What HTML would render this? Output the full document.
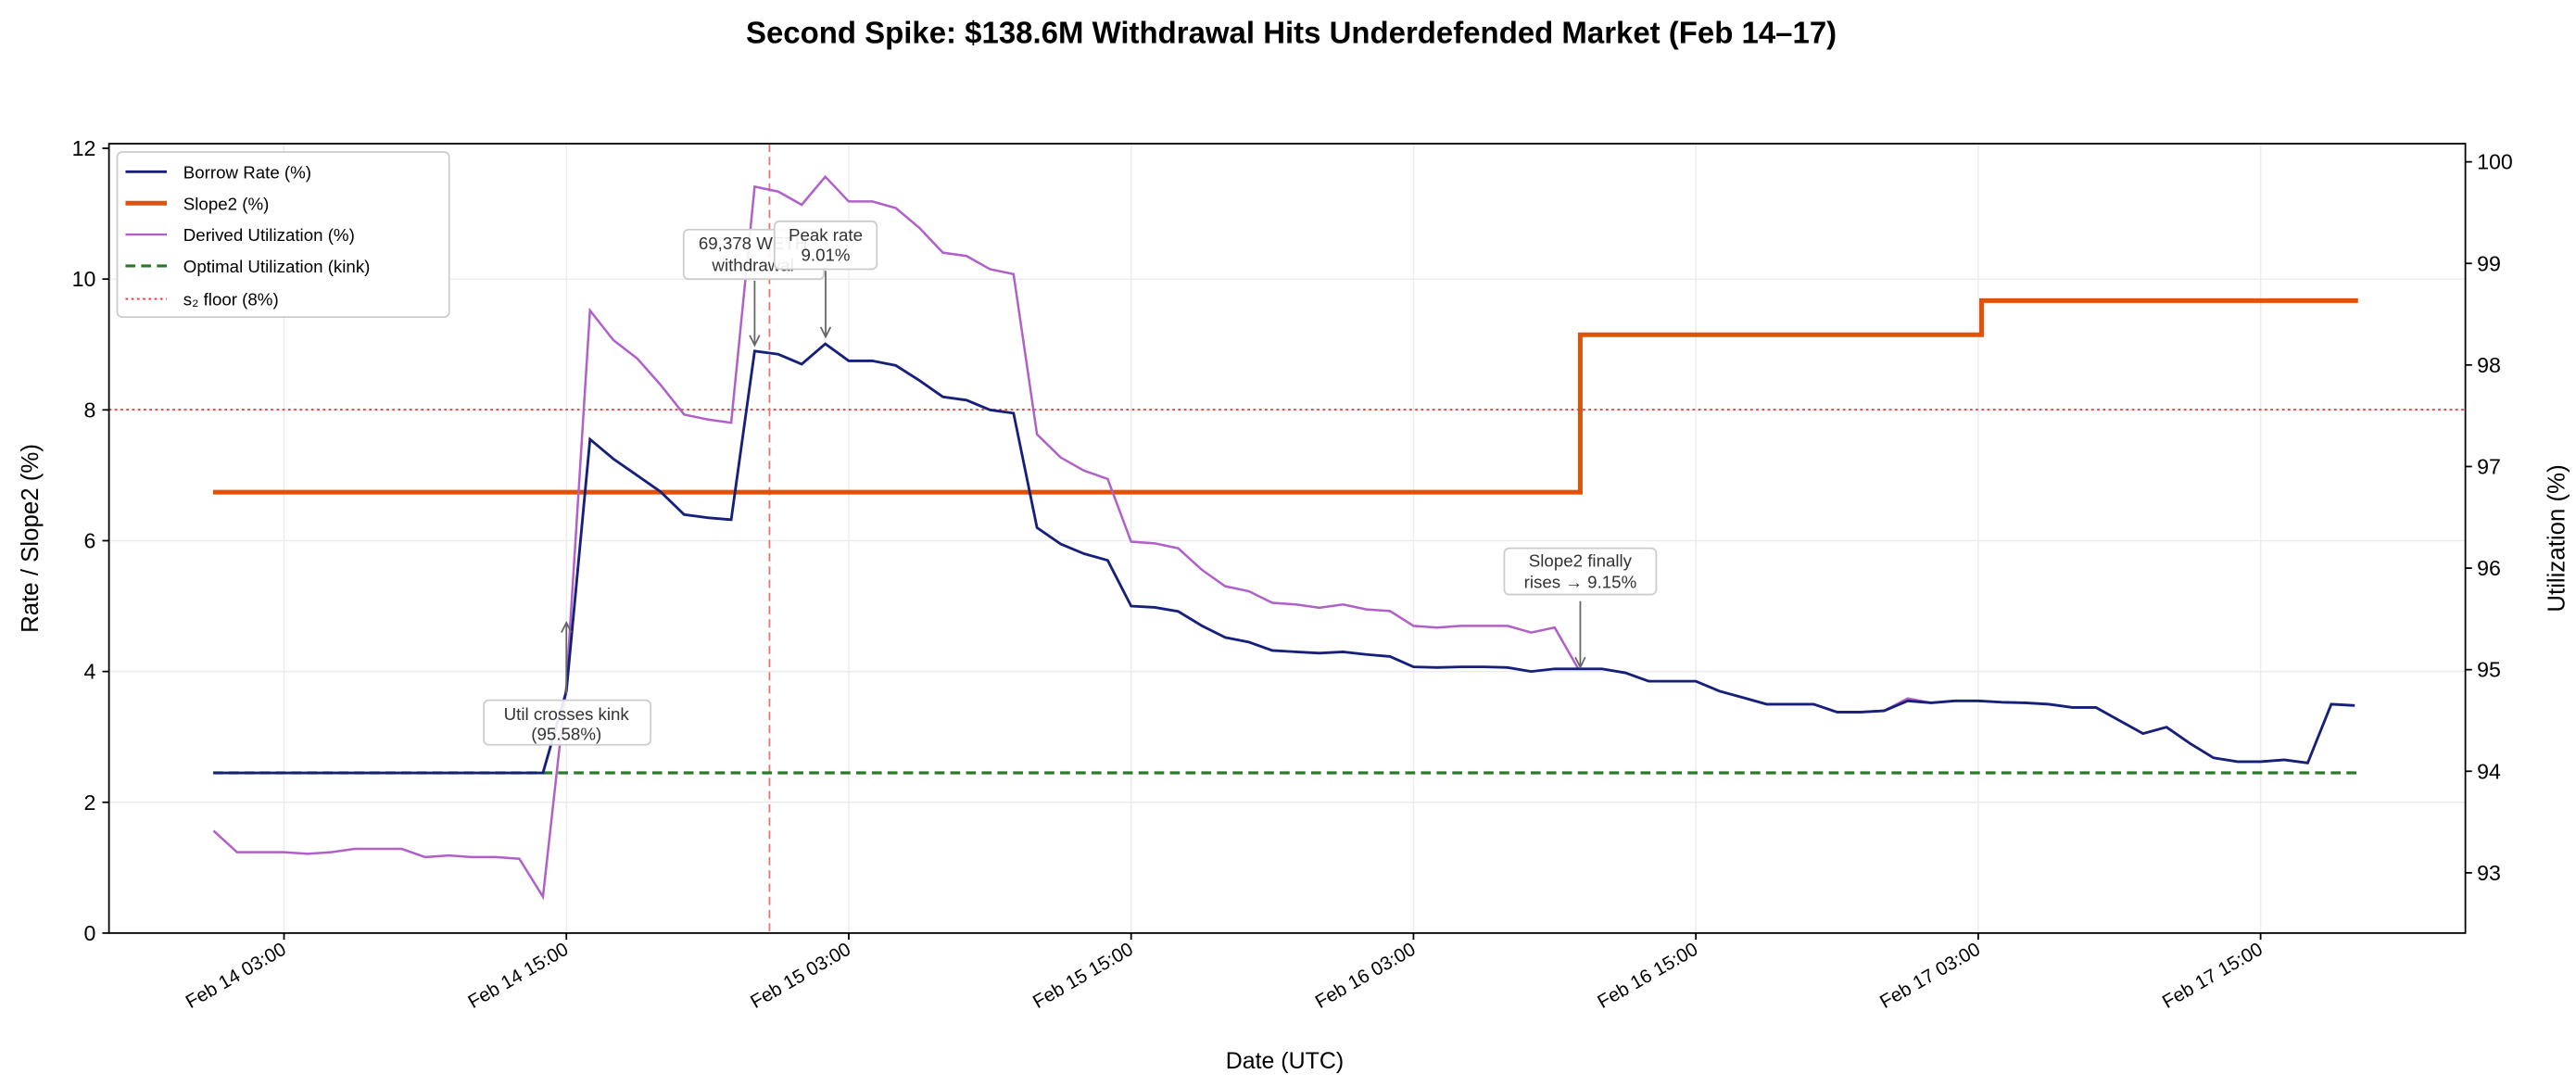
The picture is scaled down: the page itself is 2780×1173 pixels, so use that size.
<!DOCTYPE html>
<html><head><meta charset="utf-8"><style>
html,body{margin:0;padding:0;background:#fff;}
svg{display:block;font-family:"Liberation Sans","DejaVu Sans",sans-serif;}
</style></head><body>
<svg id="s" width="2780" height="1173" viewBox="0 0 1560 658.2" preserveAspectRatio="none" xmlns="http://www.w3.org/2000/svg">
<rect width="1560" height="658.2" fill="#fff"/>
<text x="782" y="26" text-anchor="middle" font-size="18.5" font-weight="bold">Second Spike: $138.6M Withdrawal Hits Underdefended Market (Feb 14–17)</text>
<g id="grid" stroke="#ebebeb" stroke-width="0.8"></g>
<line x1="66" x2="1493" y1="248" y2="248" stroke="#e33" stroke-width="1" stroke-dasharray="1.5,2"/>
<line x1="466" x2="466" y1="87" y2="565" stroke="#f07070" stroke-width="1" stroke-dasharray="5,3"/>
<line x1="129" x2="1428" y1="468" y2="468" stroke="#2a7a2a" stroke-width="1.8" stroke-dasharray="6,3.5"/>
<polyline id="slope" fill="none" stroke="#e0520a" stroke-width="2.8" points="129,298 957,298 957,202.7 1200,202.7 1200,182 1428,182"/>
<polyline id="util" fill="none" stroke="#b060c8" stroke-width="1.4"/>
<polyline id="rate" fill="none" stroke="#16207a" stroke-width="1.6"/>
<rect x="66" y="87" width="1427" height="478" fill="none" stroke="#000" stroke-width="1"/>
<g id="ticks" font-size="13"></g>
<text transform="translate(23,326) rotate(-90)" text-anchor="middle" font-size="14.5">Rate / Slope2 (%)</text>
<text transform="translate(1553,326) rotate(-90)" text-anchor="middle" font-size="14.5">Utilization (%)</text>
<text x="778" y="647" text-anchor="middle" font-size="14">Date (UTC)</text>
<g font-size="10.5" fill="#333" text-anchor="middle">
<rect x="293" y="424" width="101" height="27" rx="3" fill="#fff" fill-opacity="0.9" stroke="#ccc"/>
<text x="343" y="436">Util crosses kink</text><text x="343" y="448">(95.58%)</text>
<line x1="343" y1="420" x2="343" y2="378" stroke="#666"/><path d="M340,383 L343,377 L346,383" fill="none" stroke="#666"/>
<rect x="414" y="139" width="85" height="30" rx="3" fill="#fff" fill-opacity="0.9" stroke="#ccc"/>
<text x="456" y="151">69,378 WETH</text><text x="456" y="164">withdrawal</text>
<rect x="469" y="134" width="62" height="29" rx="3" fill="#fff" fill-opacity="0.9" stroke="#ccc"/>
<text x="500" y="146">Peak rate</text><text x="500" y="158">9.01%</text>
<line x1="457" y1="170" x2="457" y2="208" stroke="#666"/><path d="M454,203 L457,209 L460,203" fill="none" stroke="#666"/>
<line x1="500" y1="164" x2="500" y2="203" stroke="#666"/><path d="M497,198 L500,204 L503,198" fill="none" stroke="#666"/>
<rect x="911" y="332" width="92" height="28" rx="3" fill="#fff" fill-opacity="0.9" stroke="#ccc"/>
<text x="957" y="343">Slope2 finally</text><text x="957" y="356">rises → 9.15%</text>
<line x1="957" y1="364" x2="957" y2="403" stroke="#666"/><path d="M954,398 L957,404 L960,398" fill="none" stroke="#666"/>
</g>
<g font-size="10.5">
<rect x="71" y="92" width="201" height="100" rx="3" fill="#fff" stroke="#ccc"/>
<line x1="76" x2="101" y1="104" y2="104" stroke="#16207a" stroke-width="1.6"/><text x="111" y="108">Borrow Rate (%)</text>
<line x1="76" x2="101" y1="123" y2="123" stroke="#e0520a" stroke-width="2.8"/><text x="111" y="127">Slope2 (%)</text>
<line x1="76" x2="101" y1="142" y2="142" stroke="#b060c8" stroke-width="1.4"/><text x="111" y="146">Derived Utilization (%)</text>
<line x1="76" x2="101" y1="161" y2="161" stroke="#2a7a2a" stroke-width="1.8" stroke-dasharray="6,3.5"/><text x="111" y="165">Optimal Utilization (kink)</text>
<line x1="76" x2="101" y1="181" y2="181" stroke="#e33" stroke-width="1" stroke-dasharray="1.5,2"/><text x="111" y="185">s₂ floor (8%)</text>
</g>
</svg>
<script>
var NS="http://www.w3.org/2000/svg";
function el(p,t,a,txt){var e=document.createElementNS(NS,t);for(var k in a)e.setAttribute(k,a[k]);if(txt!=null)e.textContent=txt;p.appendChild(e);return e;}
var X=function(h){return 129.25+14.25*h;};
var YL=function(v){return 565-39.6*v;};
var rate=[2.45,2.45,2.45,2.45,2.45,2.45,2.45,2.45,2.45,2.45,2.45,2.45,2.45,2.45,2.45,3.7,7.55,7.25,7.0,6.75,6.4,6.35,6.32,8.9,8.85,8.7,9.01,8.75,8.75,8.68,8.45,8.2,8.15,8.0,7.95,6.2,5.95,5.8,5.7,5.0,4.98,4.92,4.7,4.52,4.45,4.32,4.3,4.28,4.3,4.26,4.23,4.07,4.06,4.07,4.07,4.06,4.0,4.04,4.04,4.04,3.98,3.85,3.85,3.85,3.7,3.6,3.5,3.5,3.5,3.38,3.38,3.4,3.55,3.52,3.55,3.55,3.53,3.52,3.5,3.45,3.45,3.25,3.05,3.15,2.9,2.68,2.62,2.62,2.65,2.6,3.5,3.48];
var uy=[503,516,516,516,517,516,514,514,514,519,518,519,519,520,543,415,188,206,217,233,251,254,256,113,116,124,107,122,122,126,138,153,155,163,166,263,277,285,290,328,329,332,345,355,358,365,366,368,366,369,370,379,380,379,379,379,383,380];
var rp=[],up=[];
for(var i=0;i<rate.length;i++){rp.push(X(i).toFixed(1)+","+YL(rate[i]).toFixed(1));
 var y=i<uy.length?uy[i]:YL(rate[i])-(i==72?1.5:0);up.push(X(i).toFixed(1)+","+y.toFixed(1));}
document.getElementById("rate").setAttribute("points",rp.join(" "));
document.getElementById("util").setAttribute("points",up.join(" "));
var g=document.getElementById("grid"),t=document.getElementById("ticks");
var labs=["Feb 14 03:00","Feb 14 15:00","Feb 15 03:00","Feb 15 15:00","Feb 16 03:00","Feb 16 15:00","Feb 17 03:00","Feb 17 15:00"];
for(var k=0;k<8;k++){var x=X(3+12*k);el(g,"line",{x1:x,x2:x,y1:87,y2:565});
 el(t,"line",{x1:x,x2:x,y1:565,y2:569,stroke:"#000"});
 el(t,"text",{transform:"translate("+(x+2)+",577) rotate(-30)","text-anchor":"end","font-size":"11.5"},labs[k]);}
for(var v=0;v<=12;v+=2){var y=YL(v);if(v>0&&v<12)el(g,"line",{x1:66,x2:1493,y1:y,y2:y});
 el(t,"line",{x1:62,x2:66,y1:y,y2:y,stroke:"#000"});
 el(t,"text",{x:58,y:y+4.5,"text-anchor":"end"},v);}
for(var u=93;u<=100;u++){var y=467-61.5*(u-94);
 el(t,"line",{x1:1493,x2:1497,y1:y,y2:y,stroke:"#000"});
 el(t,"text",{x:1500,y:y+4.5},u);}
</script>
</body></html>
